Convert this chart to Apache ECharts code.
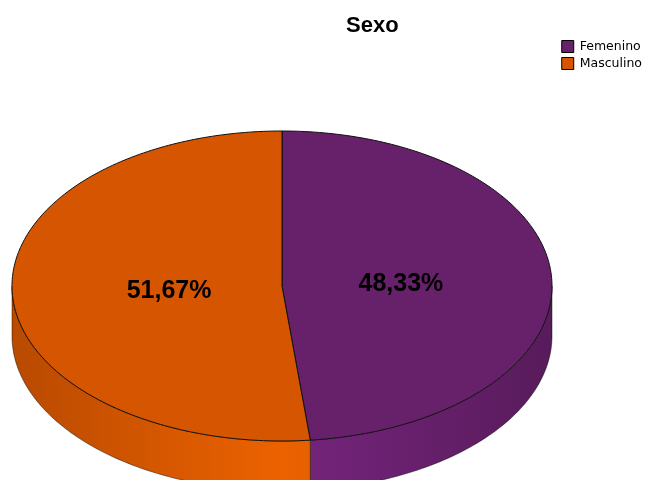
<!DOCTYPE html>
<html>
<head>
<meta charset="utf-8">
<script src="https://cdn.jsdelivr.net/npm/echarts@6/dist/echarts.min.js"></script>
<style>html,body{margin:0;padding:0;background:#fff}#c{width:646px;height:480px}</style>
</head>
<body>
<div id="c"></div>
<script>
const categories = ['Femenino', 'Masculino'];
const values = [48.33, 51.67];
const labelTexts = ['48,33%', '51,67%'];
const topColors = ['#67206A', '#D65500'];
const sideLight = ['#76257D', '#EC6200'];
const sideDark = ['#581B5B', '#B94A00'];

const total = values.reduce((a, b) => a + b, 0);
const CX = 282, CY = 286, RX = 270, RY = 155, DEPTH = 50;

function pt(t, dy) {
  return [CX + RX * Math.sin(t), CY - RY * Math.cos(t) + (dy || 0)];
}
function arc(a, b, dy) {
  const n = Math.max(2, Math.ceil((b - a) / (Math.PI / 180)));
  const out = [];
  for (let k = 0; k <= n; k++) out.push(pt(a + (b - a) * k / n, dy));
  return out;
}

function makeRender(i) {
  return function (params, api) {
    let before = 0;
    for (let k = 0; k < i; k++) before += values[k];
    const v = api.value(0);
    const a = before / total * Math.PI * 2;
    const b = (before + v) / total * Math.PI * 2;
    const children = [];
    const sa = Math.max(a, Math.PI / 2), sb = Math.min(b, Math.PI * 1.5);
    if (sb > sa) {
      const upper = arc(sa, sb, 0);
      const lower = arc(sa, sb, DEPTH).reverse();
      children.push({
        type: 'polygon',
        z2: 1,
        shape: { points: upper.concat(lower) },
        style: {
          fill: {
            type: 'linear', global: true,
            x: CX - RX, y: 0, x2: CX + RX, y2: 0,
            colorStops: [
              { offset: 0, color: sideDark[i] },
              { offset: 0.5, color: sideLight[i] },
              { offset: 1, color: sideDark[i] }
            ]
          },
          stroke: 'rgba(0,0,0,0.55)',
          lineWidth: 0.8
        }
      });
    }
    const top = [[CX, CY]].concat(arc(a, b, 0));
    children.push({
      type: 'polygon',
      z2: 2,
      shape: { points: top },
      style: { fill: topColors[i], stroke: '#111', lineWidth: 1 }
    });
    const mid = (a + b) / 2;
    children.push({
      type: 'text',
      z2: 3,
      style: {
        x: CX + 0.43 * RX * Math.sin(mid) + 3,
        y: CY - 0.43 * RY * Math.cos(mid) + 2,
        text: labelTexts[i],
        fill: '#000',
        font: 'bold 25px "Liberation Sans", Arial, sans-serif',
        align: 'center',
        verticalAlign: 'middle'
      }
    });
    return { type: 'group', children: children };
  };
}

const chart = echarts.init(document.getElementById('c'));
chart.setOption({
  animation: false,
  backgroundColor: '#fff',
  title: {
    text: 'Sexo',
    left: 341,
    top: 10,
    textStyle: { fontSize: 22, fontWeight: 'bold', color: '#000', fontFamily: '"Liberation Sans", Arial, sans-serif' }
  },
  legend: {
    orient: 'vertical',
    right: 4,
    top: 40,
    itemWidth: 12,
    itemHeight: 12,
    itemGap: 4,
    padding: 0,
    textStyle: { fontSize: 12.5, color: '#000', fontFamily: '"DejaVu Sans", sans-serif', padding: [0, 0, 0, 1] },
    data: categories.map((c, i) => ({
      name: c,
      icon: 'rect',
      itemStyle: { color: topColors[i], borderColor: '#000', borderWidth: 1 }
    }))
  },
  series: categories.map((c, i) => ({
    type: 'custom',
    name: c,
    coordinateSystem: 'none',
    itemStyle: { color: topColors[i] },
    renderItem: makeRender(i),
    data: [[values[i]]]
  }))
});
</script>
</body>
</html>
